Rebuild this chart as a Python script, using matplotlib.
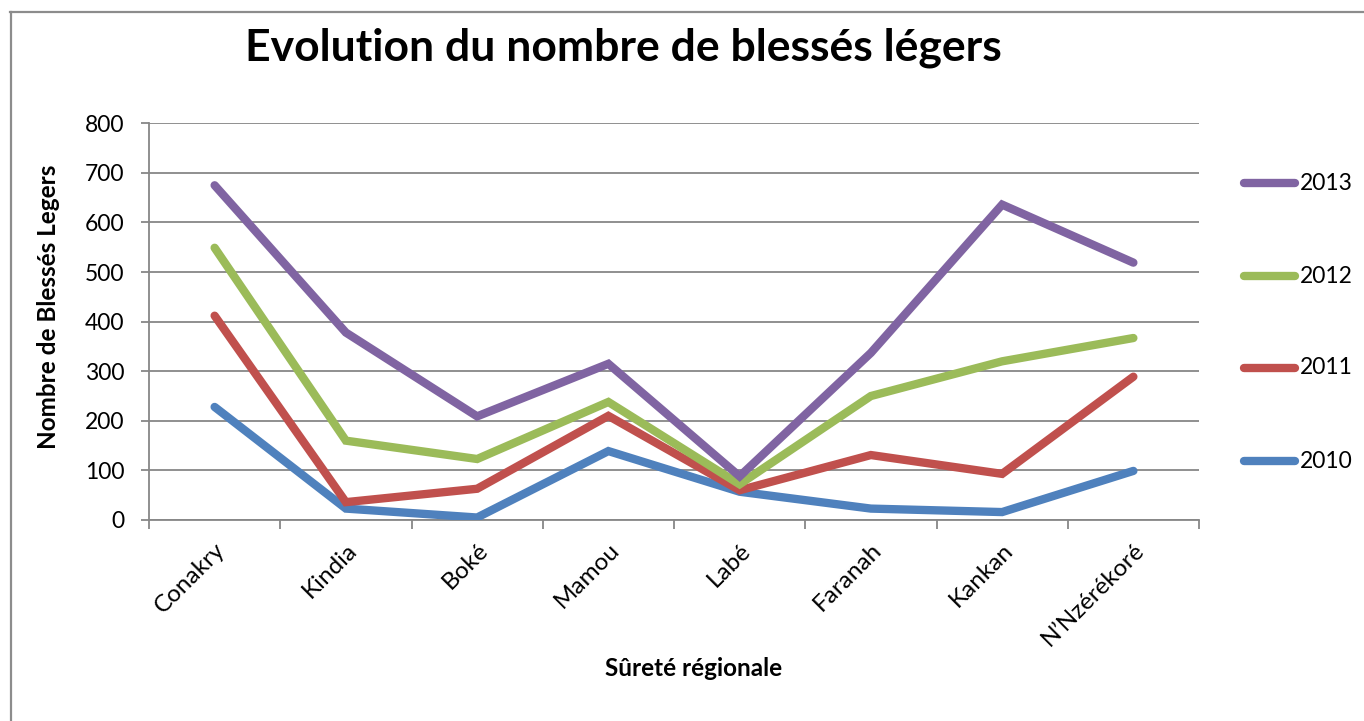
import matplotlib
matplotlib.use("Agg")
import matplotlib.pyplot as plt
from matplotlib.lines import Line2D

plt.rcParams['font.family'] = ['Lato', 'DejaVu Sans']

categories = ["Conakry", "Kindia", "Boké", "Mamou", "Labé", "Faranah", "Kankan", "N\u2019Nzérékoré"]
years = ["2010", "2011", "2012", "2013"]
v2010 = [228, 23, 5, 139, 57, 23, 16, 99]
v2011 = [412, 36, 63, 210, 60, 131, 93, 289]
v2012 = [549, 160, 123, 238, 72, 250, 320, 367]
v2013 = [675, 378, 209, 315, 88, 337, 636, 519]
series = [v2010, v2011, v2012, v2013]
colors = ["#4F81BD", "#C0504D", "#9BBB59", "#8064A2"]
yticks = [0, 100, 200, 300, 400, 500, 600, 700, 800]

W, H = 1364, 721
fig = plt.figure(figsize=(W / 100, H / 100), dpi=100)
ax = fig.add_axes([149 / W, 1 - 520 / H, (1199 - 149) / W, (520 - 123.3) / H])

x = list(range(len(categories)))
handles = {}
for yr, vals, c in zip(years, series, colors):
    ln, = ax.plot(x, vals, color=c, lw=6, solid_capstyle='round', solid_joinstyle='miter', zorder=3)
    handles[yr] = ln

ax.set_xlim(-0.5, len(categories) - 0.5)
ax.set_ylim(0, 800)
ax.set_yticks(yticks)
ax.set_yticklabels([str(t) for t in yticks], fontsize=16.5)
ax.grid(axis='y', color='#878787', lw=1.3, zorder=0)
ax.set_xticks(x)
ax.set_xticklabels(categories, rotation=45, ha='right', rotation_mode='anchor', fontsize=17.5)
ax.tick_params(axis='x', length=0, pad=14)
ax.set_xticks([i - 0.5 for i in range(len(categories) + 1)], minor=True)
ax.tick_params(axis='x', which='minor', length=6.5, color='#878787', width=1.3)
ax.tick_params(axis='y', length=5.8, color='#878787', width=1.3, pad=12)
for s in ['top', 'right']:
    ax.spines[s].set_visible(False)
for s in ['left', 'bottom']:
    ax.spines[s].set_color('#878787')
    ax.spines[s].set_linewidth(1.3)

fig.text(623 / W, 1 - 48 / H, "Evolution du nombre de blessés légers", fontsize=32,
         fontweight='bold', ha='center', va='center')
fig.text(694 / W, 1 - 668 / H, "Sûreté régionale", fontsize=17.5, fontweight='bold',
         ha='center', va='center')
fig.text(48 / W, 1 - 307 / H, "Nombre de Blessés Legers", fontsize=17.5, fontweight='bold',
         ha='center', va='center', rotation=90)

# legend (right side, newest year on top)
order = ["2013", "2012", "2011", "2010"]
row_y = [183, 276, 368, 461]
for yr, ry in zip(order, row_y):
    h = handles[yr]
    fig.add_artist(Line2D([1244 / W, 1295 / W], [1 - ry / H, 1 - ry / H], color=h.get_color(),
                          lw=6, solid_capstyle='round', transform=fig.transFigure))
    fig.text(1300 / W, 1 - ry / H, yr, fontsize=16.5, ha='left', va='center')

# outer chart frame
fig.add_artist(Line2D([10.5 / W, 10.5 / W], [0, 1 - 11.5 / H], color='#8c8c8c', lw=1.6,
                      transform=fig.transFigure))
fig.add_artist(Line2D([10 / W, 1], [1 - 11.5 / H, 1 - 11.5 / H], color='#8c8c8c', lw=1.6,
                      transform=fig.transFigure))

fig.savefig("out.png", dpi=100)
